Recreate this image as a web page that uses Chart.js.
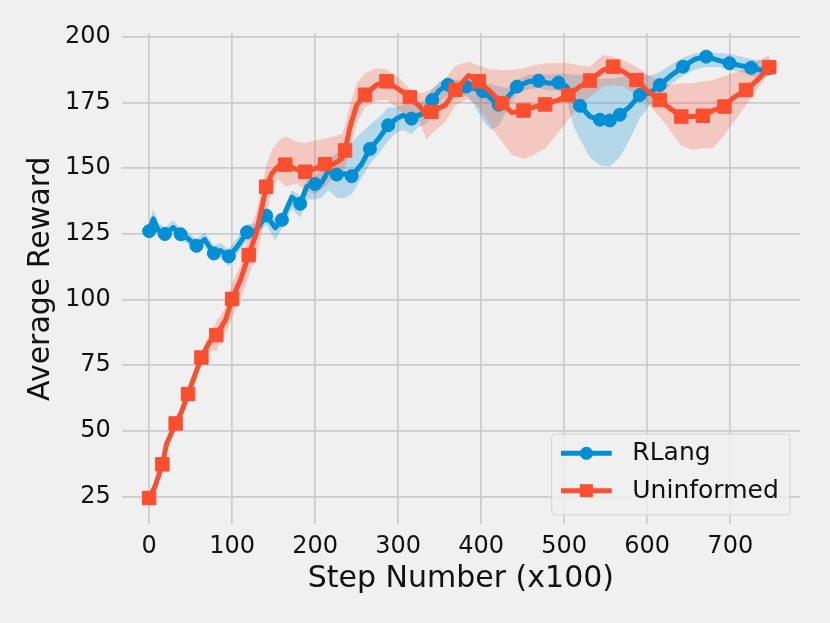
<!DOCTYPE html>
<html>
<head>
<meta charset="utf-8">
<script src="https://cdn.jsdelivr.net/npm/chart.js@4.4.1/dist/chart.umd.min.js"></script>
<style>
html,body{margin:0;padding:0;background:#f0f0f0;}
#wrap{position:relative;width:830px;height:623px;}
canvas{display:block;}
</style>
</head>
<body>
<div id="wrap"><canvas id="c" width="830" height="623"></canvas></div>
<script>
// ---- tick labels ----
const xTickValues = [0, 100, 200, 300, 400, 500, 600, 700];
const yTickValues = [25, 50, 75, 100, 125, 150, 175, 200];
const seriesNames = ['RLang', 'Uninformed'];
const xTitle = 'Step Number (x100)';
const yTitle = 'Average Reward';

// ---- RLang ----
const rlSteps = [0,5,11,19,29,38,47,57,67,78,86,96,106,118,128,141,152,160,172,182,190,200,208,216,226,236,244,256,266,278,288,298,306,316,324,332,341,350,360,370,382,392,402,412,421,431,443,457,469,481,493,503,511,519,531,543,555,567,579,591,603,615,627,643,657,671,685,699,713,725,737,747,750];
const rlMean = [126.0,130.7,126.3,124.9,127.3,124.8,123.1,120.4,122.8,117.5,118.6,116.4,120.0,125.6,126.0,131.9,127.3,130.3,138.9,136.4,143.0,143.9,144.5,149.0,147.5,147.8,146.9,151.5,157.3,161.8,166.3,168.8,170.1,168.8,170.1,170.8,175.9,179.7,181.7,179.9,181.0,180.2,179.2,176.3,174.1,176.6,181.0,182.9,183.2,182.3,182.5,181.0,176.0,173.7,169.6,168.4,168.1,170.3,173.4,177.8,178.5,181.6,184.8,188.6,191.4,192.4,191.1,189.9,189.0,188.2,187.3,188.0,188.2];
const rlLow = [123.5,127.0,124.0,122.5,125.0,122.5,121.0,118.0,120.0,114.5,116.0,112.5,117.0,122.5,123.0,128.5,122.5,127.0,134.5,131.0,138.0,138.0,138.7,141.5,138.7,138.5,140.0,146.4,151.5,156.0,160.5,163.5,164.5,163.0,165.5,166.5,169.0,175.5,177.5,176.5,177.5,174.0,168.0,164.5,166.0,172.0,178.5,180.0,180.5,179.5,179.5,176.0,166.0,161.0,154.0,151.0,150.5,154.0,161.0,169.0,174.0,178.0,181.5,185.0,187.5,188.5,188.5,187.5,186.5,185.0,184.5,185.0,185.5];
const rlHigh = [128.0,134.5,129.0,127.5,130.0,127.0,125.5,123.0,125.5,120.5,121.5,119.0,123.5,128.5,129.0,134.5,131.0,133.0,141.5,139.5,145.5,147.0,149.0,153.5,155.5,157.5,160.0,163.5,166.5,169.5,173.0,173.0,174.0,174.0,175.0,175.5,180.0,183.0,183.8,183.5,183.0,183.0,182.5,182.0,181.0,180.5,183.5,185.5,186.0,185.5,186.0,186.0,185.5,185.5,184.5,184.0,184.0,184.5,185.0,186.0,185.0,186.5,189.0,192.0,193.7,194.5,193.7,193.5,192.5,191.5,191.0,191.5,191.0];
const rlMarkSteps = [0,19,38,57,78,96,118,141,160,182,200,226,244,266,288,316,341,360,382,402,421,443,469,493,519,543,555,567,591,615,643,671,699,725,747];

// ---- Uninformed ----
const unSteps = [0,7,16,21,32,39,47,53,63,73,81,92,100,110,120,129,136,141,148,155,164,178,188,200,212,222,232,236,242,250,260,274,286,302,314,326,334,340,357,369,385,397,411,425,437,451,463,477,493,505,519,531,547,559,571,587,601,615,627,641,655,667,679,693,703,719,735,747];
const unMean = [24.4,28.7,37.2,45.0,52.8,57.2,64.0,69.3,77.9,83.9,86.4,92.1,100.2,107.4,116.9,125.1,135.3,142.9,148.0,150.5,151.3,149.5,148.6,149.8,151.5,151.5,153.5,156.7,165.6,174.0,177.9,181.7,183.0,179.7,177.0,173.5,169.8,171.4,174.0,179.8,185.2,183.0,179.1,174.7,171.1,171.9,173.2,174.2,175.9,177.8,181.0,183.3,187.3,188.6,186.7,183.5,179.1,175.9,172.8,169.6,169.6,169.9,171.9,173.4,176.6,179.7,184.2,188.4];
const unLow = [23.5,27.5,36.0,43.5,51.5,56.0,62.5,67.5,75.5,80.5,80.5,87.0,93.0,100.0,109.0,116.0,126.0,132.0,141.0,146.0,143.0,144.0,141.5,140.0,143.0,146.0,148.0,150.0,157.0,167.0,173.0,175.5,176.0,172.0,169.5,167.5,161.0,163.0,167.5,174.0,176.5,173.0,166.0,160.0,155.0,153.5,155.0,157.5,163.5,168.5,173.5,177.0,181.0,181.5,181.0,178.0,174.5,169.5,164.6,158.5,157.0,157.5,157.5,162.5,167.0,174.0,181.0,186.0];
const unHigh = [25.5,30.0,38.5,46.5,54.0,58.5,65.5,71.0,80.0,87.0,91.5,97.0,106.0,113.0,125.0,133.0,143.0,151.0,157.0,160.0,162.0,160.0,159.5,160.5,161.2,162.0,163.0,166.0,174.0,182.3,186.0,188.0,187.5,184.0,180.0,178.5,179.0,180.0,184.0,189.0,190.5,189.0,187.5,187.3,187.3,187.9,189.0,189.9,189.9,189.9,189.0,188.6,193.0,192.4,191.0,188.6,185.5,183.0,181.6,182.3,182.3,182.9,183.5,185.0,186.1,188.0,191.1,193.0];
const unMarkSteps = [0,16,32,47,63,81,100,120,141,164,188,212,236,260,286,314,340,369,397,425,451,477,505,531,559,587,615,641,667,693,719,747];

// ---- styling ----
const BLUE = '#008fd5';
const RED = '#fc4f30';
const BLUE_BAND = 'rgba(0,143,213,0.25)';
const RED_BAND = 'rgba(252,79,48,0.25)';
const FONT = 'DejaVu Sans';
const TEXT = '#111111';

function pts(steps, vals) { return steps.map((s, i) => ({x: s, y: vals[i]})); }

const lineStyle = (color, marks, style, r) => ({
  borderColor: color,
  backgroundColor: color,
  borderWidth: 5,
  borderJoinStyle: 'round',
  borderCapStyle: 'round',
  tension: 0,
  fill: false,
  pointStyle: style,
  pointBorderColor: color,
  pointBackgroundColor: color,
  pointBorderWidth: 1,
  pointRadius: ctx => (ctx.raw && marks.includes(ctx.raw.x)) ? r : 0,
  pointHoverRadius: ctx => (ctx.raw && marks.includes(ctx.raw.x)) ? r : 0
});

const bandStyle = (bg, fill) => ({
  borderWidth: 0,
  borderColor: 'rgba(0,0,0,0)',
  backgroundColor: bg,
  pointRadius: 0,
  pointHoverRadius: 0,
  tension: 0,
  fill: fill
});

const datasets = [
  Object.assign({label: seriesNames[1], data: pts(unSteps, unMean)}, lineStyle(RED, unMarkSteps, 'rect', 9.5)),
  Object.assign({label: seriesNames[0], data: pts(rlSteps, rlMean)}, lineStyle(BLUE, rlMarkSteps, 'circle', 6.5)),
  Object.assign({label: 'un_hi', data: pts(unSteps, unHigh)}, bandStyle(RED_BAND, '+1')),
  Object.assign({label: 'un_lo', data: pts(unSteps, unLow)}, bandStyle(RED_BAND, false)),
  Object.assign({label: 'rl_hi', data: pts(rlSteps, rlHigh)}, bandStyle(BLUE_BAND, '+1')),
  Object.assign({label: 'rl_lo', data: pts(rlSteps, rlLow)}, bandStyle(BLUE_BAND, false))
];

const PAD = {left: 23.5, top: 33, right: 30, bottom: 26};
const AREA = {left: 121.7, bottom: 524.3};

const bgPlugin = {
  id: 'bg',
  beforeDraw(chart) {
    const c = chart.ctx;
    c.save();
    c.fillStyle = '#f0f0f0';
    c.fillRect(0, 0, chart.width, chart.height);
    c.restore();
  }
};

const legendPlugin = {
  id: 'boxLegend',
  afterDraw(chart) {
    const c = chart.ctx;
    const bx = 551.7, by = 434, bw = 238.3, bh = 81, rr = 4;
    c.save();
    c.beginPath();
    c.moveTo(bx + rr, by);
    c.arcTo(bx + bw, by, bx + bw, by + bh, rr);
    c.arcTo(bx + bw, by + bh, bx, by + bh, rr);
    c.arcTo(bx, by + bh, bx, by, rr);
    c.arcTo(bx, by, bx + bw, by, rr);
    c.closePath();
    c.fillStyle = 'rgba(240,240,240,0.8)';
    c.fill();
    c.lineWidth = 1;
    c.strokeStyle = '#d2d2d2';
    c.stroke();
    const rows = [
      {name: seriesNames[0], color: BLUE, style: 'circle', y: 453.3},
      {name: seriesNames[1], color: RED, style: 'rect', y: 490.7}
    ];
    rows.forEach(r => {
      c.beginPath();
      c.moveTo(561, r.y);
      c.lineTo(611.7, r.y);
      c.lineWidth = 5;
      c.strokeStyle = r.color;
      c.lineCap = 'butt';
      c.stroke();
      c.fillStyle = r.color;
      if (r.style === 'circle') {
        c.beginPath();
        c.arc(586.4, r.y, 6.5, 0, Math.PI * 2);
        c.fill();
      } else {
        c.fillRect(586.4 - 6.5, r.y - 6.5, 13, 13);
      }
      c.fillStyle = TEXT;
      c.font = '25px "' + FONT + '"';
      c.textAlign = 'left';
      c.textBaseline = 'middle';
      c.fillText(r.name, 632.3, r.y + 0.5);
    });
    c.restore();
  }
};

new Chart(document.getElementById('c'), {
  type: 'line',
  data: {datasets},
  plugins: [bgPlugin, legendPlugin],
  options: {
    responsive: false,
    devicePixelRatio: 1,
    animation: false,
    events: [],
    layout: {padding: PAD},
    plugins: {legend: {display: false}, tooltip: {enabled: false}},
    scales: {
      x: {
        type: 'linear',
        min: -33,
        max: 784,
        afterBuildTicks: s => { s.ticks = xTickValues.map(v => ({value: v})); },
        afterFit: s => { s.height = (623 - PAD.bottom) - AREA.bottom; },
        grid: {color: '#cbcbcb', lineWidth: 1.7, drawTicks: false},
        border: {display: false},
        ticks: {font: {family: FONT, size: 24}, color: TEXT, padding: 8, maxRotation: 0, autoSkip: false},
        title: {display: true, text: xTitle, font: {family: FONT, size: 30}, color: TEXT, padding: 0}
      },
      y: {
        type: 'linear',
        min: 14.4,
        max: 201.4,
        afterBuildTicks: s => { s.ticks = yTickValues.map(v => ({value: v})); },
        afterFit: s => { s.width = AREA.left - PAD.left; },
        grid: {color: '#cbcbcb', lineWidth: 1.7, drawTicks: false},
        border: {display: false},
        ticks: {font: {family: FONT, size: 24}, color: TEXT, padding: 11, autoSkip: false},
        title: {display: true, text: yTitle, font: {family: FONT, size: 30}, color: TEXT, padding: 0}
      }
    }
  }
});
</script>
</body>
</html>
